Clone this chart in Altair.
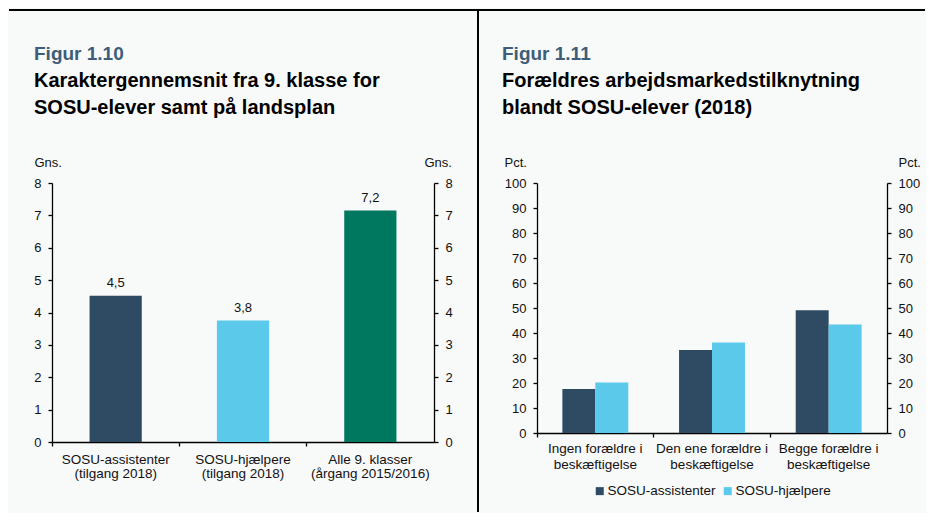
import altair as alt
import pandas as pd

FONT = "Liberation Sans, Arial, Helvetica, sans-serif"

# ---------- data: Figur 1.10 ----------
left_figure = "Figur 1.10"
left_title = ["Karaktergennemsnit fra 9. klasse for", "SOSU-elever samt på landsplan"]
left_categories = [
    "SOSU-assistenter\n(tilgang 2018)",
    "SOSU-hjælpere\n(tilgang 2018)",
    "Alle 9. klasser\n(årgang 2015/2016)",
]
left_values = [4.52, 3.75, 7.15]
left_labels = ["4,5", "3,8", "7,2"]
left_colors = ["#2e4b63", "#5bc9ea", "#00775f"]
left_ticks = [0, 1, 2, 3, 4, 5, 6, 7, 8]

# ---------- data: Figur 1.11 ----------
right_figure = "Figur 1.11"
right_title = ["Forældres arbejdsmarkedstilknytning", "blandt SOSU-elever (2018)"]
right_categories = [
    "Ingen forældre i\nbeskæftigelse",
    "Den ene forældre i\nbeskæftigelse",
    "Begge forældre i\nbeskæftigelse",
]
right_series = ["SOSU-assistenter", "SOSU-hjælpere"]
assistenter = [17.6, 33.2, 49.1]
hjaelpere = [20.2, 36.2, 43.4]
right_colors = ["#2e4b63", "#5bc9ea"]
right_ticks = [0, 10, 20, 30, 40, 50, 60, 70, 80, 90, 100]

LABEL_EXPR = "split(datum.label, '\\n')"
one = pd.DataFrame({"k": [0]})


def title_layers(fig, lines, dx):
    fig_t = alt.Chart(one).mark_text(
        text=fig, align="left", baseline="alphabetic", font=FONT, fontSize=19,
        fontWeight="bold", color="#3d5d78",
    ).encode(x=alt.value(dx), y=alt.value(-123))
    l1 = alt.Chart(one).mark_text(
        text=lines[0], align="left", baseline="alphabetic", font=FONT, fontSize=20,
        fontWeight="bold", color="#000",
    ).encode(x=alt.value(dx), y=alt.value(-96))
    l2 = alt.Chart(one).mark_text(
        text=lines[1], align="left", baseline="alphabetic", font=FONT, fontSize=20,
        fontWeight="bold", color="#000",
    ).encode(x=alt.value(dx), y=alt.value(-69))
    return [fig_t, l1, l2]


# ---------- left chart ----------
ldf = pd.DataFrame({"kat": left_categories, "value": left_values, "label": left_labels})
lxscale = alt.Scale(paddingInner=0, paddingOuter=0)
lyscale = alt.Scale(domain=[0, 8], nice=False)

lbars = alt.Chart(ldf).mark_bar(width=alt.RelativeBandSize(0.41)).encode(
    x=alt.X("kat:N", sort=left_categories, scale=lxscale,
            axis=alt.Axis(title=None, orient="bottom", labelAngle=0, labelExpr=LABEL_EXPR,
                          ticks=False, labelLineHeight=14, labelPadding=10, domain=True,
                          labelFontSize=13.5)),
    y=alt.Y("value:Q", scale=lyscale,
            axis=alt.Axis(title="Gns.", orient="left", values=left_ticks, titleAngle=0,
                          titleX=-18, titleY=-21, titleAlign="left", titleBaseline="middle",
                          labelPadding=7)),
    color=alt.Color("kat:N", sort=left_categories,
                    scale=alt.Scale(domain=left_categories, range=left_colors), legend=None),
)
ltext = alt.Chart(ldf).mark_text(baseline="bottom", dy=-6, fontSize=13, font=FONT, color="#111").encode(
    x=alt.X("kat:N", sort=left_categories, scale=lxscale,
            axis=alt.Axis(title=None, orient="bottom", labels=False, domain=False,
                          ticks=True, bandPosition=0)),
    y=alt.Y("value:Q", scale=lyscale,
            axis=alt.Axis(title="Gns.", orient="right", values=left_ticks, titleAngle=0,
                          titleX=-10, titleY=-21, titleAlign="left", titleBaseline="middle",
                          labelPadding=7)),
    text="label:N",
)
top_line = alt.Chart(one).mark_rule(color="black", strokeWidth=2).encode(
    x=alt.value(-43), x2=alt.value(873), y=alt.value(-173))
divider = alt.Chart(one).mark_rule(color="black", strokeWidth=2).encode(
    x=alt.value(426), y=alt.value(-173), y2=alt.value(329))

left = alt.layer(
    lbars, ltext, top_line, divider, *title_layers(left_figure, left_title, -18)
).resolve_axis(x="independent", y="independent").properties(width=382, height=259)

# ---------- right chart ----------
rows = []
for s, vals in zip(right_series, [assistenter, hjaelpere]):
    for c, v in zip(right_categories, vals):
        rows.append({"cat": c, "series": s, "value": v})
rdf = pd.DataFrame(rows)
rxscale = alt.Scale(paddingInner=0, paddingOuter=0)
ryscale = alt.Scale(domain=[0, 100], nice=False)

rbars = alt.Chart(rdf).mark_bar().encode(
    x=alt.X("cat:N", sort=right_categories, scale=rxscale,
            axis=alt.Axis(title=None, orient="bottom", labelAngle=0, labelExpr=LABEL_EXPR,
                          ticks=False, labelLineHeight=16, labelPadding=8, domain=True,
                          labelFontSize=13.5)),
    xOffset=alt.XOffset("series:N", sort=right_series,
                        scale=alt.Scale(paddingInner=0, paddingOuter=0.77)),
    y=alt.Y("value:Q", scale=ryscale,
            axis=alt.Axis(title="Pct.", orient="left", values=right_ticks, titleAngle=0,
                          titleX=-33, titleY=-21, titleAlign="left", titleBaseline="middle",
                          labelPadding=7)),
    color=alt.Color("series:N", sort=right_series,
                    scale=alt.Scale(domain=right_series, range=right_colors),
                    legend=alt.Legend(title=None, orient="none", legendX=56, legendY=301,
                                      direction="horizontal", symbolType="square",
                                      symbolSize=64, labelFontSize=13.5, labelFont=FONT,
                                      labelColor="#111", columnPadding=5, labelOffset=1,
                                      symbolStrokeWidth=0, symbolOpacity=1)),
)
rghost = alt.Chart(rdf).mark_bar(opacity=0).encode(
    x=alt.X("cat:N", sort=right_categories, scale=rxscale,
            axis=alt.Axis(title=None, orient="bottom", labels=False, domain=False,
                          ticks=True, bandPosition=0)),
    y=alt.Y("value:Q", scale=ryscale,
            axis=alt.Axis(title="Pct.", orient="right", values=right_ticks, titleAngle=0,
                          titleX=11, titleY=-21, titleAlign="left", titleBaseline="middle",
                          labelPadding=7)),
)

right = alt.layer(
    rbars, rghost, *title_layers(right_figure, right_title, -35)
).resolve_axis(x="independent", y="independent").properties(width=350, height=250)

chart = alt.HConcatChart(hconcat=[left, right], spacing=103, bounds="flush").resolve_scale(
    color="independent"
).resolve_legend(color="independent").properties(
    padding={"left": 0, "top": 1, "right": 0, "bottom": 0}
).configure(
    background="#f8f9f9", font=FONT
).configure_view(stroke=None).configure_axis(
    labelFont=FONT, titleFont=FONT, labelFontSize=13, titleFontSize=13,
    titleFontWeight="normal", labelColor="#111", titleColor="#111",
    domainColor="#000", tickColor="#000", domainWidth=1.3, tickWidth=1.3,
    tickSize=4, grid=False,
)

chart.save("out.html", embed_options={"renderer": "svg", "actions": False})
